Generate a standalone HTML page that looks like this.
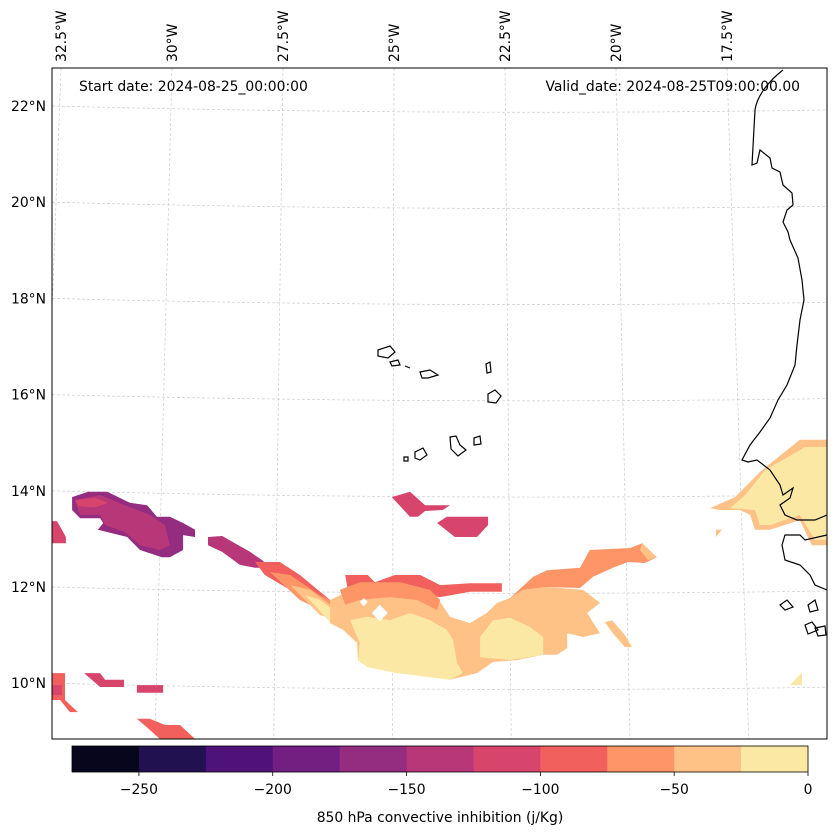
<!DOCTYPE html>
<html><head><meta charset="utf-8"><style>
body{margin:0;background:#fff;font-family:"DejaVu Sans","Liberation Sans",sans-serif}
svg text{font-family:"DejaVu Sans","Liberation Sans",sans-serif;font-size:13.9px;fill:#000}
</style></head><body>
<svg id="chart" width="837" height="836" viewBox="0 0 837 836" xmlns="http://www.w3.org/2000/svg">
<defs><clipPath id="mapclip"><rect x="52" y="68" width="775" height="671"/></clipPath></defs>
<g id="grid" clip-path="url(#mapclip)"></g>
<g id="fills" clip-path="url(#mapclip)"></g>
<g fill="none" stroke="#000" stroke-width="1.2" clip-path="url(#mapclip)">
<path d="M783,70 C770,80 757,95 755,110 L752,165 L757,163 L760,150 L770,158 L772,168 L780,172 L783,185 L792,193 L793,205 L787,210 L783,222 L788,232 L790,240 L798,258 L802,280 L804,300 L800,320 L797,345 L795,365 L787,385 L778,400 L770,418 L760,432 L750,445 L742,460 L748,462 L757,460 L770,470 L780,485 L783,495 L793,488 L790,498 L780,505 L785,515 L797,520 L815,520 L827,515 M827,535 L805,540 L800,535 L785,535 L782,545 L785,560 L800,565 L810,575 L815,585 L827,590"/>
<path d="M378,350 L390,346 L395,352 L388,358 L378,356Z M390,362 L398,360 L400,365 L392,366Z M405,366 L410,368 M420,372 L430,370 L438,375 L428,378 L422,378Z M486,364 L490,362 L491,372 L487,373Z M488,394 L495,390 L501,396 L496,403 L488,402Z M450,437 L456,436 L460,445 L466,450 L458,456 L451,449Z M415,452 L423,448 L427,455 L420,460 L415,458Z M404,457 L408,457 L408,461 L404,461Z M474,438 L480,436 L481,444 L474,445Z M780,605 L787,600 L793,607 L785,610Z M808,605 L815,600 L818,610 L810,612Z M805,625 L812,622 L818,630 L808,634Z M815,628 L825,626 L826,635 L818,636Z"/>
</g>
<rect x="52" y="68" width="775" height="671" fill="none" stroke="#000" stroke-width="1"/>
<text x="79" y="91">Start date: 2024-08-25_00:00:00</text>
<text x="800" y="91" text-anchor="end">Valid_date: 2024-08-25T09:00:00.00</text>
<g id="latlabels"></g>
<g id="lonlabels"></g>
<g id="cbar"></g>
<text x="440" y="822" text-anchor="middle">850 hPa convective inhibition (j/Kg)</text>
</svg>
<script>
// ---- data ----
const levels = [-275,-250,-225,-200,-175,-150,-125,-100,-75,-50,-25,0];
const bandColors = ["#07061c","#221150","#4f127b","#721f81","#942c80","#b73779","#d8456c","#f1605d","#fd9567","#fec287","#fce8a5"];
const cbarTicks = [-250,-200,-150,-100,-50,0];
const cbarTickLabels = ["\u2212250","\u2212200","\u2212150","\u2212100","\u221250","0"];
const latTicks = [22,20,18,16,14,12,10];
const lonTicks = [-32.5,-30,-27.5,-25,-22.5,-20,-17.5];
// CIN region values (band midpoints, J/kg)
const regionValues = [-160,-140,-110,-110,-140,-90,-60,-35,-10,-35,-90,-60,-10,-10,-60,-35,-35,-110,-110,-35,-10,-35,-10,-90,-110,-110,-110,-90];
// region outlines in [lon,lat] pairs (flattened)
const regionShapes = [
[-32.25,13.87,-31.89,13.98,-31.46,13.98,-30.95,13.75,-30.56,13.70,-30.34,13.46,-30.05,13.46,-29.75,13.33,-29.48,13.19,-29.48,13.04,-29.75,13.08,-29.75,12.77,-30.05,12.62,-30.23,12.62,-30.72,12.77,-31.01,13.04,-31.67,13.19,-31.55,13.33,-31.62,13.43,-32.07,13.43,-32.25,13.60],
[-32.18,13.81,-31.62,13.91,-30.95,13.66,-30.50,13.50,-30.16,13.29,-30.05,12.87,-30.27,12.77,-30.72,12.87,-31.06,13.14,-31.51,13.29,-31.62,13.50,-32.07,13.50],
[-32.18,13.81,-31.73,13.85,-31.44,13.75,-31.73,13.66,-32.12,13.68],
[-32.70,13.37,-32.59,13.37,-32.48,13.19,-32.39,13.04,-32.39,12.91,-32.70,12.91],
[-29.19,13.04,-28.87,13.06,-28.24,12.73,-27.97,12.56,-27.79,12.40,-28.13,12.40,-28.47,12.46,-28.87,12.73,-29.19,12.87],
[-28.13,12.52,-27.57,12.52,-27.12,12.25,-26.44,11.73,-26.10,11.63,-26.33,11.31,-26.89,11.63,-27.34,11.94,-27.91,12.25],
[-27.79,12.31,-27.34,12.25,-26.67,11.83,-26.22,11.63,-26.44,11.42,-27.12,11.73],
[-27.34,12.04,-26.89,11.94,-26.44,11.63,-26.33,11.31,-26.67,11.42],
[-27.00,11.83,-26.67,11.73,-26.22,11.42,-26.44,11.27],
[-26.44,11.73,-26.22,11.83,-25.99,11.88,-25.70,11.94,-25.09,11.94,-24.48,12.0,-24.03,11.79,-23.74,11.38,-23.29,11.25,-22.91,11.46,-22.68,11.67,-22.39,11.77,-22.09,11.94,-21.55,12.0,-20.74,11.94,-20.36,11.67,-20.65,11.46,-20.36,11.04,-20.74,10.96,-21.10,11.04,-21.10,10.73,-21.33,10.59,-21.64,10.59,-22.23,10.48,-22.77,10.44,-23.13,10.21,-23.74,10.07,-24.19,10.21,-24.93,10.21,-25.61,10.34,-25.81,10.48,-25.83,10.84,-26.15,11.11,-26.44,11.25],
[-26.10,12.25,-25.59,12.25,-25.43,12.10,-24.98,12.25,-24.41,12.25,-23.96,12.04,-23.29,12.08,-22.57,12.08,-22.57,11.90,-23.29,11.90,-23.96,11.79,-24.86,11.94,-25.77,11.83,-26.04,11.94],
[-26.22,11.94,-25.77,12.10,-24.86,12.10,-24.19,11.94,-23.96,11.73,-24.03,11.52,-24.48,11.73,-25.09,11.79,-25.77,11.73,-26.10,11.63],
[-25.99,11.31,-25.61,11.38,-25.09,11.31,-24.64,11.46,-24.19,11.31,-23.81,11.11,-23.67,10.90,-23.58,10.42,-23.45,10.21,-23.74,10.07,-24.93,10.21,-25.61,10.34,-25.81,10.48,-25.77,10.84],
[-23.06,10.96,-22.77,11.31,-22.39,11.36,-21.94,11.17,-21.64,10.96,-21.64,10.59,-22.39,10.48,-23.06,10.54],
[-22.39,11.77,-21.87,12.21,-21.55,12.35,-20.81,12.40,-20.59,12.77,-19.68,12.81,-19.41,12.91,-19.08,12.62,-19.35,12.50,-19.73,12.52,-20.07,12.40,-20.52,12.21,-20.81,11.98,-21.55,12.0,-22.09,11.94],
[-19.41,12.91,-19.08,12.62,-19.28,12.56,-19.46,12.77],
[-20.25,11.27,-20.09,11.31,-19.80,11.0,-19.64,10.75,-19.80,10.75,-20.09,11.06],
[-25.05,13.87,-24.64,13.98,-24.30,13.70,-23.74,13.70,-23.90,13.60,-24.30,13.58,-24.46,13.46,-24.64,13.46],
[-24.03,13.33,-23.81,13.46,-22.88,13.46,-22.88,13.29,-23.13,13.04,-23.63,13.04],
[-17.88,13.64,-17.32,13.87,-16.76,14.39,-15.86,15.06,-15.25,15.06,-15.25,12.87,-15.59,12.87,-15.86,13.39,-16.53,13.19,-16.87,13.19,-16.98,13.50,-17.21,13.60,-17.66,13.60],
[-17.43,13.64,-17.09,13.91,-16.64,14.43,-15.74,14.91,-15.25,14.91,-15.25,12.98,-15.52,12.98,-15.86,13.50,-16.53,13.29,-16.76,13.29,-16.87,13.60],
[-17.75,13.19,-17.61,13.19,-17.75,13.04],
[-16.08,9.96,-15.81,10.23,-15.81,9.96],
[-32.70,10.21,-32.41,10.21,-32.41,9.65,-32.12,9.40,-32.30,9.40,-32.52,9.65,-32.70,9.65],
[-32.70,9.96,-32.48,9.96,-32.48,9.75,-32.70,9.75],
[-31.98,10.21,-31.62,10.21,-31.51,10.07,-31.08,10.07,-31.08,9.92,-31.62,9.92],
[-30.79,9.96,-30.20,9.96,-30.20,9.80,-30.79,9.80],
[-30.79,9.26,-30.50,9.26,-30.16,9.13,-29.82,9.13,-29.48,8.84,-30.27,8.84,-30.50,9.03]
];
const hole1 = [-25.50,11.46,-25.32,11.63,-25.14,11.46,-25.32,11.29];
const hole2 = [-25.77,11.69,-25.68,11.77,-25.59,11.69,-25.68,11.60];
// ---- projection ----
function xScale(lon){return 172+(lon+30)*44.4;}
function yScale(lat){return 587-(lat-12)*48.1;}
function colorFor(v){for(let i=0;i<levels.length-1;i++){if(v>=levels[i]&&v<levels[i+1])return bandColors[i];}return bandColors[bandColors.length-1];}
const NS="http://www.w3.org/2000/svg";
function mk(tag,attrs,parent){const e=document.createElementNS(NS,tag);for(const k in attrs)e.setAttribute(k,attrs[k]);parent.appendChild(e);return e;}
function pts(arr){let s=[];for(let i=0;i<arr.length;i+=2)s.push(xScale(arr[i]).toFixed(1)+","+yScale(arr[i+1]).toFixed(1));return s.join(" ");}
// grid
const grid=document.getElementById('grid');
latTicks.forEach(lat=>{
  const y=yScale(lat);
  const p=mk('path',{d:`M52,${y} Q440,${y+10} 827,${y+4}`,fill:'none',stroke:'#ccc','stroke-width':0.7,'stroke-dasharray':'3,2'},grid);
  
  
});
lonTicks.forEach(lon=>{
  const xt=xScale(lon); const xb=xt+(lon+24.5)*3.1;
  const l=mk('line',{x1:xt,y1:68,x2:xb,y2:739,stroke:'#ccc','stroke-width':0.7,'stroke-dasharray':'3,2'},grid);
  
  
});
// fills
const fills=document.getElementById('fills');
regionShapes.forEach((sh,i)=>{
  const p=mk('polygon',{points:pts(sh),fill:colorFor(regionValues[i])},fills);
  
  
});
[hole1,hole2].forEach(h=>{
  const p=mk('polygon',{points:pts(h),fill:'#fff'},fills);
  
  
});
// labels
const ll=document.getElementById('latlabels');
latTicks.forEach(lat=>{
  const t=mk('text',{x:46,y:yScale(lat)+5,'text-anchor':'end'},ll);
  t.textContent=lat+"\u00b0N";
  
  
});
const lo=document.getElementById('lonlabels');
lonTicks.forEach(lon=>{
  const x=xScale(lon)+5;
  const t=mk('text',{x:x,y:62,transform:`rotate(-90 ${x} 62)`},lo);
  t.textContent=Math.abs(lon)+"\u00b0W";
  
  
});
// colorbar
const cb=document.getElementById('cbar');
function cx(v){return 72+(v-levels[0])/(levels[levels.length-1]-levels[0])*736;}
for(let i=0;i<bandColors.length;i++){
  const r=mk('rect',{x:cx(levels[i]),y:746,width:cx(levels[i+1])-cx(levels[i])+0.5,height:26,fill:bandColors[i]},cb);
  
  
}
const fr=mk('rect',{x:72,y:746,width:736,height:26,fill:'none',stroke:'#000','stroke-width':0.8},cb);


cbarTicks.forEach((v,i)=>{
  const x=cx(v);
  const l=mk('line',{x1:x,y1:772,x2:x,y2:776,stroke:'#000','stroke-width':0.8},cb);
  
  
  const t=mk('text',{x:x,y:794,'text-anchor':'middle'},cb);
  t.textContent=cbarTickLabels[i];
  
  
});
</script>
</body></html>
